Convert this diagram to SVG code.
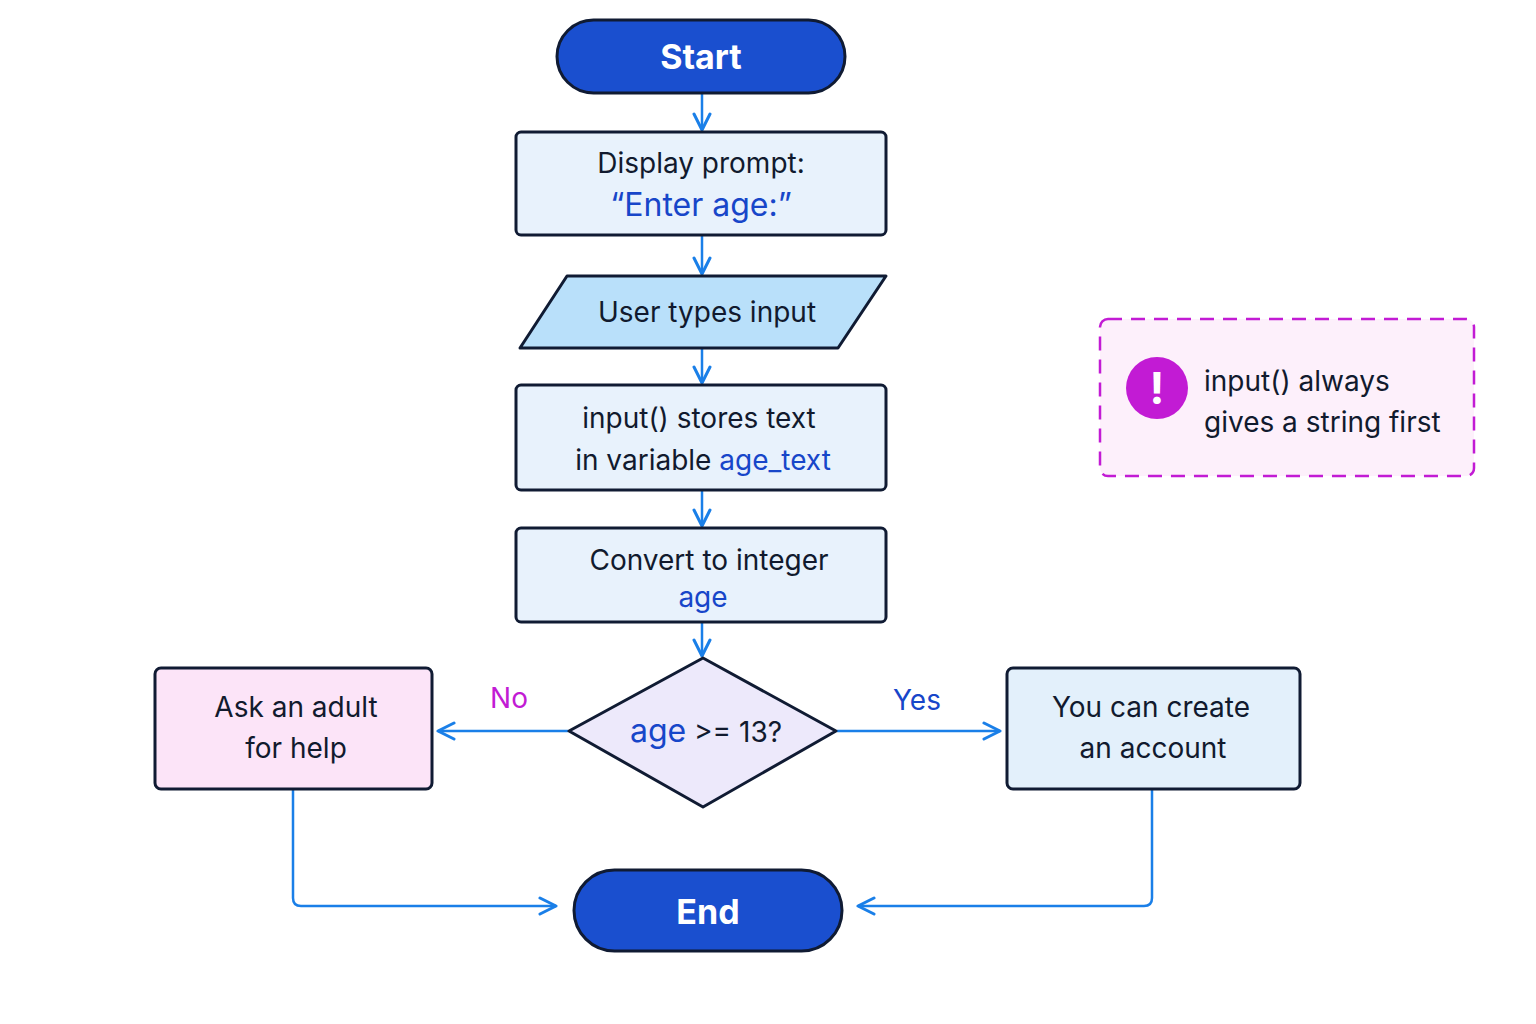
<svg xmlns="http://www.w3.org/2000/svg" width="1536" height="1024" viewBox="0 0 1536 1024">
<defs>
<marker id="ah" viewBox="0 0 20 20" refX="18" refY="10" markerWidth="20" markerHeight="20" markerUnits="userSpaceOnUse" orient="auto">
<path d="M2,2 L18,10 L2,18" fill="none" stroke="#1a7fe8" stroke-width="3" stroke-linecap="round" stroke-linejoin="round"/>
</marker>
</defs>
<style>
text{font-family:"Inter","Noto Sans","Liberation Sans",sans-serif;text-anchor:middle;fill:#111a2e;font-size:28px}
.b{fill:#1746c9}
.n{stroke:#101b33;stroke-width:3}
.c{fill:none;stroke:#1a7fe8;stroke-width:2.5;marker-end:url(#ah)}
.t{fill:#fff;font-weight:bold;font-size:34px}
</style>
<rect width="1536" height="1024" fill="#fff"/>
<g id="connectors">
<line class="c" x1="702" y1="94" x2="702" y2="130"/>
<line class="c" x1="702" y1="236" x2="702" y2="274"/>
<line class="c" x1="702" y1="349" x2="702" y2="383"/>
<line class="c" x1="702" y1="491" x2="702" y2="526"/>
<line class="c" x1="702" y1="623" x2="702" y2="656"/>
<line class="c" x1="568" y1="731" x2="438" y2="731"/>
<line class="c" x1="837" y1="731" x2="1000" y2="731"/>
<path class="c" d="M293,790 V898 Q293,906 301,906 H556"/>
<path class="c" d="M1152,790 V898 Q1152,906 1144,906 H858"/>
<text x="509" y="708" style="fill:#c21bd4">No</text>
<text x="917" y="710" class="b">Yes</text>
</g>
<g id="start"><rect class="n" x="557" y="20" width="288" height="73" rx="36.5" fill="#1a4fcf"/><text class="t" x="701" y="69">Start</text></g>
<g id="prompt"><rect class="n" x="516" y="132" width="370" height="103" rx="5" fill="#e8f2fc"/><text x="701" y="173">Display prompt:</text><text x="701" y="216" class="b" style="font-size:32px">“Enter age:”</text></g>
<g id="input"><polygon class="n" points="567,276 886,276 838,348 520,348" fill="#b9e0fa" stroke-linejoin="round"/><text x="707" y="322">User types input</text></g>
<g id="store"><rect class="n" x="516" y="385" width="370" height="105" rx="5" fill="#e8f2fc"/><text x="699" y="428">input() stores text</text><text x="703" y="470">in variable <tspan class="b">age_text</tspan></text></g>
<g id="convert"><rect class="n" x="516" y="528" width="370" height="94" rx="5" fill="#e8f2fc"/><text x="709" y="570">Convert to integer</text><text x="703" y="607" class="b">age</text></g>
<g id="decision"><polygon class="n" points="703,658 836,731 703,807 569,731" fill="#ede9fb" stroke-linejoin="round"/><text x="706" y="742"><tspan class="b" style="font-size:32px">age</tspan> &gt;= 13?</text></g>
<g id="ask"><rect class="n" x="155" y="668" width="277" height="121" rx="6" fill="#fce4f8"/><text x="296" y="717">Ask an adult</text><text x="296" y="758">for help</text></g>
<g id="yes"><rect class="n" x="1007" y="668" width="293" height="121" rx="6" fill="#e3f0fb"/><text x="1151" y="717">You can create</text><text x="1153" y="758">an account</text></g>
<g id="end"><rect class="n" x="574" y="870" width="268" height="81" rx="40.5" fill="#1a4fcf"/><text class="t" x="708" y="924">End</text></g>
<g id="note"><rect x="1100" y="319" width="374" height="157" rx="8" fill="#fdf0fb" stroke="#c21bd4" stroke-width="2.5" stroke-dasharray="14,9"/><circle cx="1157" cy="388" r="31" fill="#c21bd4"/><text x="1157" y="404" style="fill:#fff;font-weight:bold;font-size:44px">!</text><text x="1204" y="391" style="text-anchor:start">input() always</text><text x="1204" y="432" style="text-anchor:start">gives a string first</text></g>
</svg>
